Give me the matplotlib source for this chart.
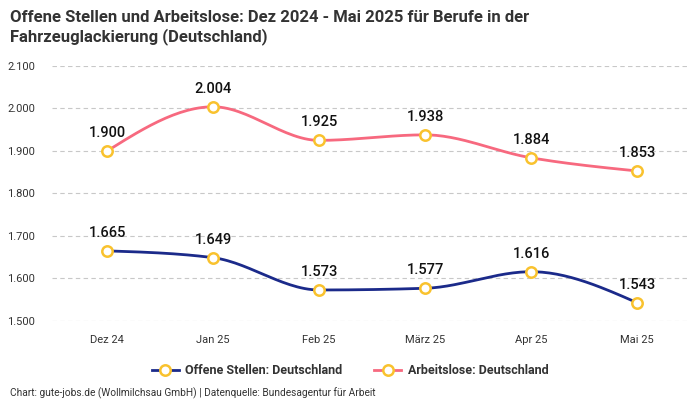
import numpy as np
import matplotlib.pyplot as plt

# ---- data ----
months = ["Dez 24", "Jan 25", "Feb 25", "März 25", "Apr 25", "Mai 25"]
offene_stellen = [1665, 1649, 1573, 1577, 1616, 1543]
arbeitslose = [1900, 2004, 1925, 1938, 1884, 1853]
y_ticks = [1500, 1600, 1700, 1800, 1900, 2000, 2100]

BLUE = "#1b2a8a"
PINK = "#f7697f"
YELLOW = "#f9c22e"
TEXT = "#333333"

plt.rcParams['font.family'] = ['Roboto', 'DejaVu Sans']


def monotone_curve(x, y, n=30):
    """monotone cubic (wie curveMonotoneX) nur zum Zeichnen der glatten Linie"""
    x = np.asarray(x, float)
    y = np.asarray(y, float)
    h = np.diff(x)
    d = np.diff(y) / h
    m = np.zeros_like(y)
    for i in range(1, len(y) - 1):
        p = (d[i - 1] * h[i] + d[i] * h[i - 1]) / (h[i - 1] + h[i])
        m[i] = (np.sign(d[i - 1]) + np.sign(d[i])) * min(abs(d[i - 1]), abs(d[i]), 0.5 * abs(p))
    m[0] = (3 * d[0] - m[1]) / 2
    m[-1] = (3 * d[-1] - m[-2]) / 2
    xs, ys = [], []
    t = np.linspace(0, 1, n)
    h00 = 2 * t**3 - 3 * t**2 + 1
    h10 = t**3 - 2 * t**2 + t
    h01 = -2 * t**3 + 3 * t**2
    h11 = t**3 - t**2
    for i in range(len(x) - 1):
        xs.append(x[i] + t * h[i])
        ys.append(h00 * y[i] + h10 * h[i] * m[i] + h01 * y[i + 1] + h11 * h[i] * m[i + 1])
    return np.concatenate(xs), np.concatenate(ys)


fig = plt.figure(figsize=(7, 4), dpi=100)
ax = fig.add_axes([52 / 700, 1 - 321 / 400, (688 - 52) / 700, (321 - 66) / 400])

xpos = np.arange(len(months))
for series, color, label in [(offene_stellen, BLUE, "Offene Stellen: Deutschland"),
                             (arbeitslose, PINK, "Arbeitslose: Deutschland")]:
    cx, cy = monotone_curve(xpos, series)
    ax.plot(cx, cy, color=color, linewidth=2, zorder=3, clip_on=False)
    ax.plot(xpos, series, linestyle="none", marker="o", markersize=7.5,
            markerfacecolor="white", markeredgecolor=YELLOW, markeredgewidth=1.8,
            zorder=4, clip_on=False)
    # legend handle
    ax.plot([], [], color=color, linewidth=2, marker="o", markersize=7.5,
            markerfacecolor="white", markeredgecolor=YELLOW, markeredgewidth=1.8,
            label=label)
    for xi, v in zip(xpos, series):
        ax.annotate(f"{v/1000:.3f}", (xi, v), xytext=(0, 8), textcoords="offset points",
                    ha="center", va="bottom", fontsize=10.5, fontweight="medium", color="#111111")

ax.set_xlim(-0.52, 5.48)
ax.set_ylim(1500, 2100)
ax.set_xticks(xpos)
ax.set_xticklabels(months)
ax.set_yticks(y_ticks)
ax.set_yticklabels([f"{v/1000:.3f}" for v in y_ticks])
ax.tick_params(axis="both", length=0, labelsize=8, labelcolor=TEXT)
ax.tick_params(axis="x", pad=10)
ax.tick_params(axis="y", pad=12)
ax.grid(axis="y", color="#c8c8c8", linestyle=(0, (4, 3)), linewidth=0.8)
for s in ax.spines.values():
    s.set_visible(False)

fig.text(10 / 700, 1 - 10 / 400, "Offene Stellen und Arbeitslose: Dez 2024 - Mai 2025 für Berufe in der\nFahrzeuglackierung (Deutschland)",
         ha="left", va="top", fontsize=12, fontweight="bold", color=TEXT, linespacing=1.25)

leg = fig.legend(loc="center", bbox_to_anchor=(0.5, 1 - 371 / 400), ncol=2, frameon=False,
                 fontsize=9, handlelength=2.2, columnspacing=2.5, handletextpad=0.5)
for t in leg.get_texts():
    t.set_fontweight("bold")
    t.set_color(TEXT)

fig.text(10 / 700, 1 - 393 / 400, "Chart: gute-jobs.de (Wollmilchsau GmbH) | Datenquelle: Bundesagentur für Arbeit",
         ha="left", va="center", fontsize=7.3, color=TEXT)

fig.savefig("out.png", dpi=100)
